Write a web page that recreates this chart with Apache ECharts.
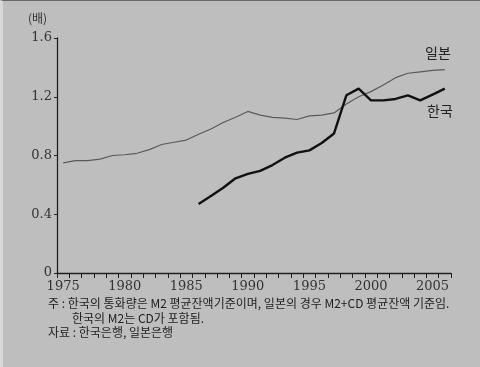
<!DOCTYPE html>
<html><head><meta charset="utf-8">
<script src="https://cdn.jsdelivr.net/npm/echarts@6/dist/echarts.min.js"></script>
<style>
html,body{margin:0;padding:0;background:#bebebe;}
#wrap{position:absolute;left:0;top:0;width:477px;height:366px;border-top:1px solid #666;border-left:3px solid #d8d8d8;background:#bebebe;}
#c{width:477px;height:366px;}
</style></head>
<body><div id="wrap"><div id="c"></div></div>
<script>
const years = ['1975','1976','1977','1978','1979','1980','1981','1982','1983','1984','1985','1986','1987','1988','1989','1990','1991','1992','1993','1994','1995','1996','1997','1998','1999','2000','2001','2002','2003','2004','2005','2006'];
const japan = [0.75,0.765,0.765,0.775,0.80,0.805,0.815,0.84,0.875,0.89,0.905,0.945,0.98,1.025,1.06,1.10,1.075,1.06,1.055,1.045,1.07,1.075,1.09,1.15,1.20,1.235,1.28,1.33,1.36,1.37,1.38,1.385];
const korea = [null,null,null,null,null,null,null,null,null,null,null,0.47,0.525,0.58,0.645,0.675,0.695,0.735,0.785,0.82,0.835,0.885,0.95,1.21,1.255,1.175,1.175,1.185,1.21,1.175,1.215,1.255];
const yTicks = [0,0.4,0.8,1.2,1.6];
const unitLabel = '(배)';
const japanLabel = '일본';
const koreaLabel = '한국';
const notes = ['주 : 한국의 통화량은 M2 평균잔액기준이며, 일본의 경우 M2+CD 평균잔액 기준임.','한국의 M2는 CD가 포함됨.','자료 : 한국은행, 일본은행'];

const chart = echarts.init(document.getElementById('c'), null, {renderer:'canvas'});
const numFont = 'DejaVu Serif';
const krFont = 'Noto Sans CJK KR';
chart.setOption({
  backgroundColor:'#bebebe',
  animation:false,
  grid:{left:54, right:29, top:37, bottom:94, containLabel:false},
  xAxis:{
    type:'category', data:years, boundaryGap:true,
    axisLine:{lineStyle:{color:'#222', width:1.3}},
    axisTick:{show:true, interval:0, alignWithLabel:false, length:5, lineStyle:{color:'#222'}},
    axisLabel:{interval:function(i,v){return (+v)%5===0;}, color:'#333', fontFamily:numFont, fontSize:13, margin:7}
  },
  yAxis:{
    type:'value', min:yTicks[0], max:yTicks[yTicks.length-1], interval:0.4,
    splitLine:{show:false},
    axisLine:{show:true, lineStyle:{color:'#222', width:1.3}},
    axisTick:{show:true, length:3, lineStyle:{color:'#222'}},
    axisLabel:{color:'#333', fontFamily:numFont, fontSize:13, margin:5,
      formatter:function(v){return v===0?'0':v.toFixed(1);}}
  },
  series:[
    {name:japanLabel, type:'line', data:japan, symbol:'none', smooth:false,
      lineStyle:{color:'#5a5a5a', width:1.2}},
    {name:koreaLabel, type:'line', data:korea, symbol:'none', smooth:false, connectNulls:false,
      lineStyle:{color:'#111', width:2.4}}
  ],
  graphic:[
    {type:'text', left:25, top:11, style:{text:unitLabel, font:'12px '+krFont, fill:'#333'}},
    {type:'text', left:422, top:45, style:{text:japanLabel, font:'14px '+krFont, fill:'#222'}},
    {type:'text', left:424, top:103, style:{text:koreaLabel, font:'14px '+krFont, fill:'#222'}},
    {type:'text', left:45, top:296, style:{text:notes[0], font:'12px '+krFont, fill:'#222'}},
    {type:'text', left:69, top:311, style:{text:notes[1], font:'12px '+krFont, fill:'#222'}},
    {type:'text', left:45, top:325, style:{text:notes[2], font:'12px '+krFont, fill:'#222'}}
  ]
});
</script>
</body></html>
